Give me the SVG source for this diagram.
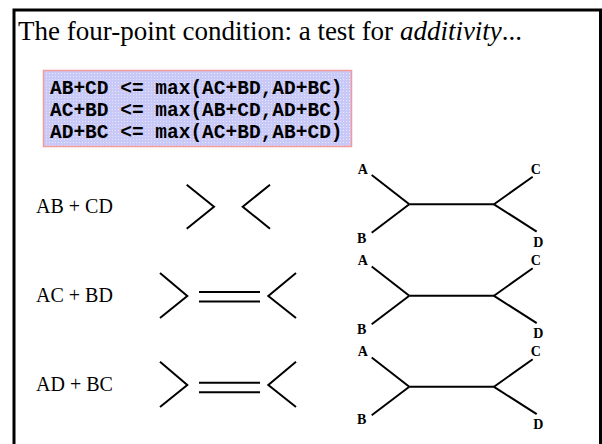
<svg xmlns="http://www.w3.org/2000/svg" width="602" height="444" viewBox="0 0 602 444">
<style>
.title{font-family:"Liberation Serif",serif;font-size:27px;fill:#000}
.mono{font-family:"Liberation Mono",monospace;font-weight:bold;font-size:19.5px;fill:#000}
.lbl{font-family:"Liberation Serif",serif;font-size:20px;fill:#000}
.tl{font-family:"Liberation Serif",serif;font-weight:bold;font-size:14px;fill:#000;text-anchor:middle}
.ln{stroke:#000;stroke-width:2;fill:none}
</style>
<defs>
<pattern id="dots" width="3" height="3" patternUnits="userSpaceOnUse">
<rect width="3" height="3" fill="#c9c9f7"/>
<rect x="1" y="1" width="1" height="1" fill="#e6e6ff"/>
</pattern>
<g id="tree">
<line class="ln" x1="371.7" y1="175" x2="409.3" y2="204.3"/>
<line class="ln" x1="371.7" y1="232.7" x2="409.3" y2="204.3"/>
<line class="ln" x1="409.3" y1="204.3" x2="494" y2="204.3"/>
<line class="ln" x1="494" y1="204.3" x2="532.7" y2="176.7"/>
<line class="ln" x1="494" y1="204.3" x2="536.7" y2="231.7"/>
</g>
</defs>
<rect x="0" y="0" width="602" height="444" fill="#fff"/>
<path d="M14 460 V10 H600.5 V460" fill="none" stroke="#000" stroke-width="3"/>
<text class="title" x="18" y="40">The four-point condition: a test for <tspan font-style="italic">additivity</tspan>...</text>
<g id="equations">
<rect x="43.5" y="70.5" width="308" height="76" fill="url(#dots)" stroke="#f59a9a" stroke-width="1.5"/>
<text class="mono" x="50" y="94">AB+CD &lt;= max(AC+BD,AD+BC)</text>
<text class="mono" x="50" y="116">AC+BD &lt;= max(AB+CD,AD+BC)</text>
<text class="mono" x="50" y="138">AD+BC &lt;= max(AC+BD,AB+CD)</text>
</g>
<g id="row1">
<text class="lbl" x="36" y="213">AB + CD</text>
<polyline class="ln" points="186.7,184.7 214,206.7 186.7,228.7"/>
<polyline class="ln" points="270,184.7 242.7,206.7 270,228.7"/>
</g>
<g id="row2">
<text class="lbl" x="36" y="302">AC + BD</text>
<polyline class="ln" points="160,273 187.3,296 160,318"/>
<line class="ln" x1="199" y1="292" x2="260" y2="292"/>
<line class="ln" x1="199" y1="301.5" x2="260" y2="301.5"/>
<polyline class="ln" points="296,273 268.3,296 296,318"/>
</g>
<g id="row3">
<text class="lbl" x="36" y="391">AD + BC</text>
<polyline class="ln" points="160,361.7 187.3,385 160,407"/>
<line class="ln" x1="199" y1="382.7" x2="260" y2="382.7"/>
<line class="ln" x1="199" y1="392.3" x2="260" y2="392.3"/>
<polyline class="ln" points="296,361.7 268.3,385 296,407"/>
</g>
<g id="tree1">
<use href="#tree"/>
<text class="tl" x="362.7" y="174">A</text>
<text class="tl" x="361.7" y="243">B</text>
<text class="tl" x="535.7" y="174">C</text>
<text class="tl" x="538.3" y="246.5">D</text>
</g>
<g id="tree2">
<use href="#tree" transform="translate(0,91.5)"/>
<text class="tl" x="362.7" y="264.5">A</text>
<text class="tl" x="361.7" y="334">B</text>
<text class="tl" x="535.7" y="264.5">C</text>
<text class="tl" x="538.3" y="338">D</text>
</g>
<g id="tree3">
<use href="#tree" transform="translate(0,182.5)"/>
<text class="tl" x="362.7" y="356">A</text>
<text class="tl" x="361.7" y="424">B</text>
<text class="tl" x="535.7" y="355.5">C</text>
<text class="tl" x="538.3" y="429">D</text>
</g>
</svg>
